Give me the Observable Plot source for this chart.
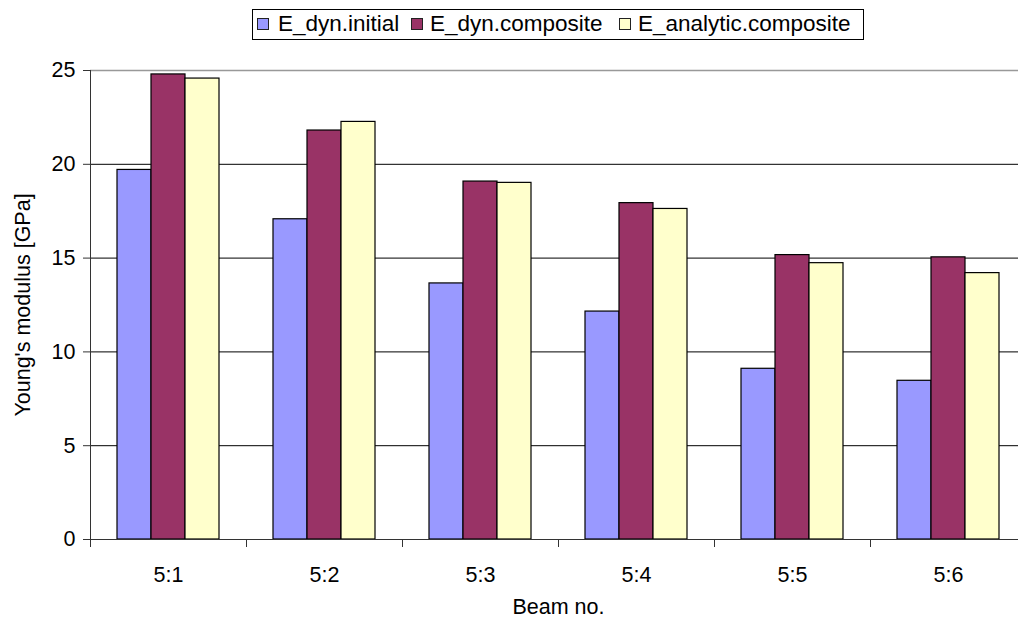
<!DOCTYPE html>
<html><head><meta charset="utf-8">
<script src="https://cdn.jsdelivr.net/npm/d3@7"></script>
<script src="https://cdn.jsdelivr.net/npm/@observablehq/plot@0.6"></script>
<style>
html,body{margin:0;padding:0;overflow:hidden;background:#fff;width:1018px;height:621px}
#legend{position:relative;height:48px;font-family:"Liberation Sans",Arial,sans-serif;font-size:22.5px;color:#000}
#legend .box{position:absolute;left:252px;top:9px;width:612px;height:31px;border:1px solid #000;box-sizing:border-box}
#legend .sw{position:absolute;top:18px;width:12px;height:12px;border:1px solid #222;box-sizing:border-box}
#legend .lb{position:absolute;top:11px;line-height:26px;white-space:nowrap}
#chart svg{display:block;max-width:none !important}
</style></head>
<body>
<div id="legend"></div>
<div id="chart"></div>
<script>
const beams = ["5:1", "5:2", "5:3", "5:4", "5:5", "5:6"];
const series = ["E_dyn.initial", "E_dyn.composite", "E_analytic.composite"];
const eDynInitial = [19.7, 17.07, 13.65, 12.15, 9.1, 8.46];
const eDynComposite = [24.79, 21.8, 19.08, 17.93, 15.16, 15.04];
const eAnalyticComposite = [24.57, 22.26, 19.01, 17.62, 14.73, 14.2];
const colors = ["#9999FF", "#993366", "#FFFFCC"];
const yTicks = [0, 5, 10, 15, 20, 25];
const yLabel = "Young's modulus [GPa]";
const xLabel = "Beam no.";

const seriesValues = [eDynInitial, eDynComposite, eAnalyticComposite];
const data = [];
beams.forEach((b, i) => series.forEach((s, j) => data.push({beam: b, series: s, value: seriesValues[j][i]})));

// legend
const legend = document.getElementById("legend");
const box = document.createElement("div"); box.className = "box"; legend.appendChild(box);
const swX = [257, 411, 619], lbX = [278, 430, 638];
series.forEach((s, i) => {
  const sw = document.createElement("div"); sw.className = "sw";
  sw.style.left = swX[i] + "px"; sw.style.background = colors[i];
  const lb = document.createElement("div"); lb.className = "lb";
  lb.style.left = lbX[i] + "px"; lb.textContent = s;
  legend.appendChild(sw); legend.appendChild(lb);
});

const plotTop = 22, plotBottomMargin = 82, H = 573;
const innerH = H - plotTop - plotBottomMargin;

const chart = Plot.plot({
  width: 1027, height: H,
  marginLeft: 88, marginRight: 0, marginTop: plotTop, marginBottom: plotBottomMargin,
  style: {fontFamily: "'Liberation Sans', Arial, sans-serif", fontSize: "21px", color: "#000", background: "#fff", maxWidth: "none"},
  fx: {domain: beams, padding: 0},
  x: {domain: series, paddingInner: 0, paddingOuter: 0.75, axis: null},
  y: {domain: [0, 25]},
  color: {domain: series, range: colors},
  marks: [
    Plot.ruleY([5, 10, 15, 20], {stroke: "#000", strokeWidth: 1}),
    Plot.ruleY([25], {stroke: "#999", strokeWidth: 1.5}),
    Plot.barY(data, {fx: "beam", x: "series", y: "value", fill: "series", stroke: "#000", strokeWidth: 1.2}),
    Plot.ruleY([0], {stroke: "#333", strokeWidth: 1}),
    Plot.frame({anchor: "left", facetAnchor: "left", insetBottom: -7, stroke: "#333"}),
    Plot.frame({anchor: "left", insetTop: innerH, insetBottom: -7, stroke: "#333"}),
    Plot.axisY({ticks: yTicks, tickSize: 7, tickPadding: 8, fontSize: 21.5, stroke: "#333",
      label: yLabel, labelAnchor: "center", labelOffset: 76, labelArrow: "none"}),
    Plot.axisFx({anchor: "bottom", tickSize: 0, tickPadding: 27, fontSize: 21.5,
      label: xLabel, labelAnchor: "center", labelOffset: 74, labelArrow: "none"})
  ]
});
document.getElementById("chart").appendChild(chart);
</script>
</body></html>
